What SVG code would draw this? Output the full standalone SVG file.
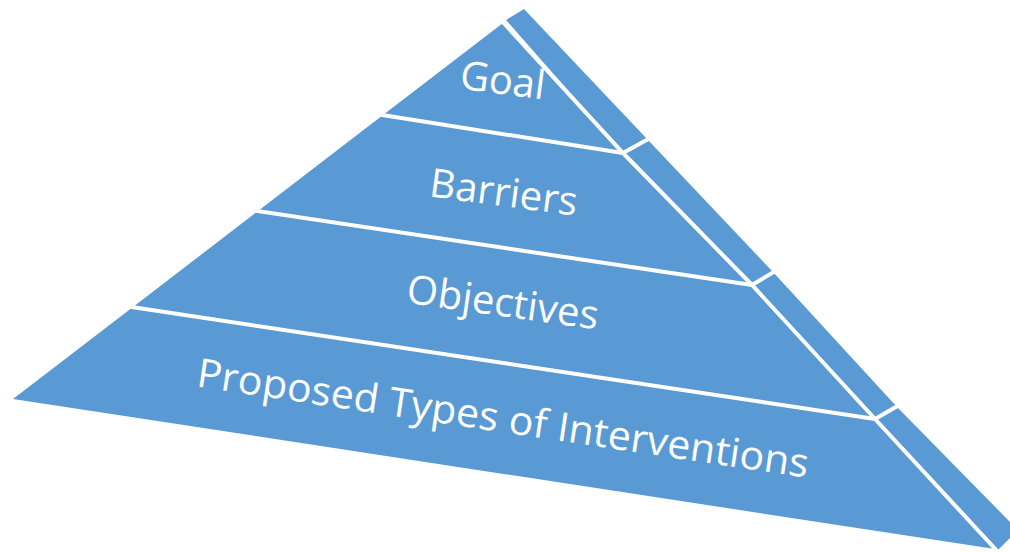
<svg xmlns="http://www.w3.org/2000/svg" width="1010" height="552" viewBox="0 0 1010 552">
<style>
.face{fill:#5A9AD4}
.side{fill:#5A9AD4}
.sep{stroke:#FFFFFF;stroke-width:4;fill:none;stroke-linecap:butt}
.lbl{font-family:"Open Sans","Liberation Sans",sans-serif;font-size:40px;fill:#FFFFFF;text-anchor:middle}
</style>
<rect width="1010" height="552" fill="#FFFFFF"/>
<g id="goal">
<polygon class="face" points="503,23 383,115 623,153"/>
<polygon class="side" points="506,20 524,9 648,140 623,153"/>
<text class="lbl" transform="translate(501,94) rotate(7.5)" x="0" y="0">Goal</text>
</g>
<g id="barriers">
<polygon class="face" points="383,115 623,153 752,285 258,211"/>
<polygon class="side" points="623,153 648,140 773,272 752,285"/>
<text class="lbl" transform="translate(502,206) rotate(7.5)" x="0" y="0">Barriers</text>
</g>
<g id="objectives">
<polygon class="face" points="258,211 752,285 875,419 133,307"/>
<polygon class="side" points="752,285 773,272 897,407 875,419"/>
<text class="lbl" transform="translate(501,316) rotate(8)" x="0" y="0">Objectives</text>
</g>
<g id="interventions">
<polygon class="face" points="133,307 875,419 995,549 13,399"/>
<polygon class="side" points="875,419 897,407 1011,523 1011,537 998,550"/>
<text class="lbl" transform="translate(501,432) rotate(8.5)" x="0" y="0" textLength="618" lengthAdjust="spacingAndGlyphs">Proposed Types of Interventions</text>
</g>
<g id="connectors">
<polyline class="sep" points="500,19 623,153 752,285 875,419 999,553"/>
<line class="sep" x1="376" y1="114" x2="623" y2="153"/>
<line class="sep" x1="250" y1="210" x2="752" y2="285"/>
<line class="sep" x1="125" y1="306" x2="875" y2="419"/>
<line class="sep" x1="623" y1="153" x2="652" y2="137"/>
<line class="sep" x1="752" y1="285" x2="777" y2="270"/>
<line class="sep" x1="875" y1="419" x2="901" y2="404"/>
</g>
</svg>
